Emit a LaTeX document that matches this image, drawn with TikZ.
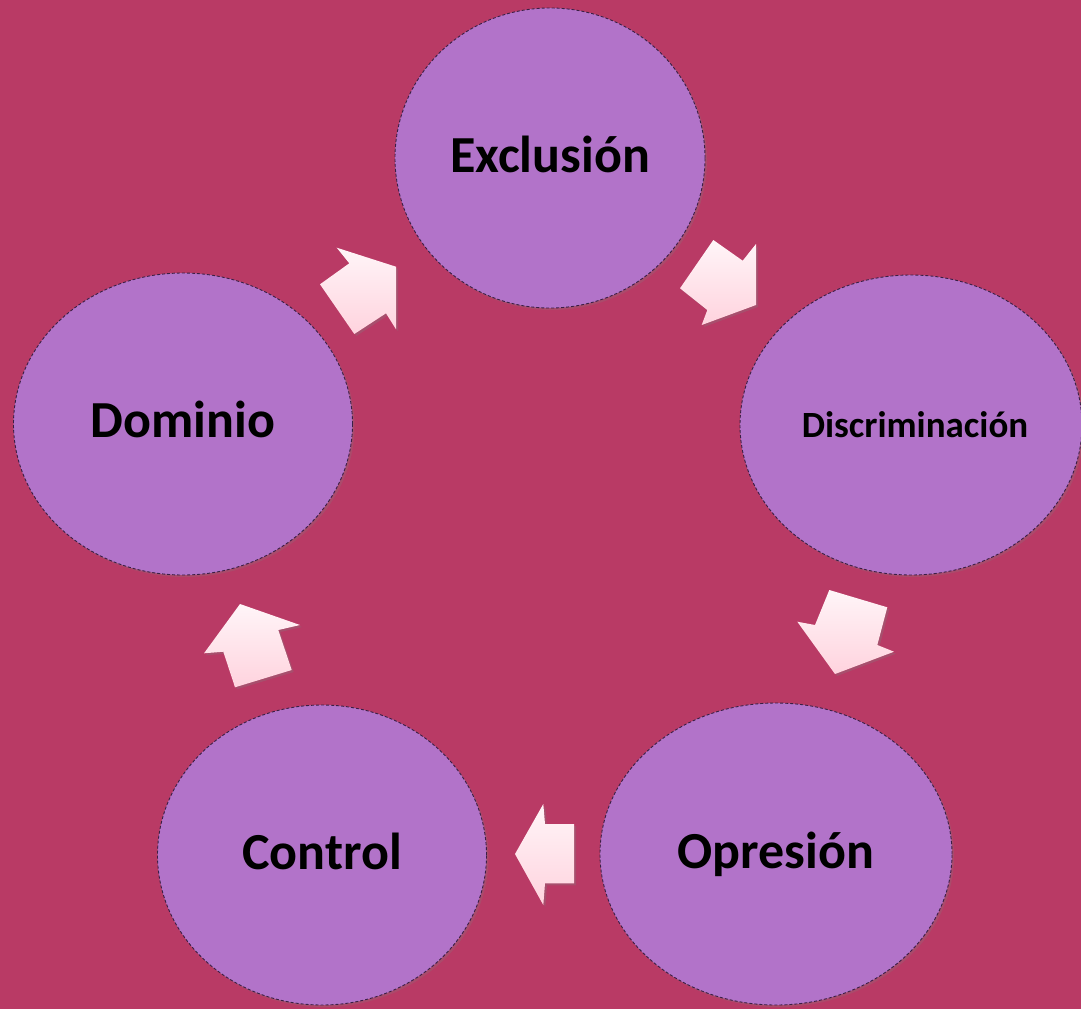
\documentclass[tikz,border=0pt]{standalone}
\usepackage{fontspec}
\setmainfont{Carlito}
\usetikzlibrary{shapes.geometric,shadows}
\definecolor{bgrose}{HTML}{B93A65}
\definecolor{stagefill}{HTML}{B273C9}
\definecolor{stageline}{HTML}{3A1F45}
\definecolor{arrowtop}{HTML}{FFF5F8}
\definecolor{arrowbot}{HTML}{FFD3DE}
\begin{document}
\begin{tikzpicture}[
		x={(1pt,0pt)},
		y={(0pt,-1pt)},
		stage/.style={ellipse,draw=stageline,densely dashed,line width=0.9pt,fill=stagefill,inner sep=0pt,
			drop shadow={shadow xshift=2pt,shadow yshift=-2pt,opacity=0.25},
			font=\bfseries\fontsize{52}{60}\selectfont},
		cyclearrow/.style={top color=arrowtop,bottom color=arrowbot,
			drop shadow={shadow xshift=2pt,shadow yshift=-2pt,opacity=0.3}},
	]
		\fill[bgrose] (0,0) rectangle (1081,1009);
		\useasboundingbox (0,0) rectangle (1081,1009);
		
		\node[stage,minimum width=310pt,minimum height=300pt] (exclusion) at (550,158) {\raisebox{8pt}{Exclusión}};
		\node[stage,minimum width=342pt,minimum height=300pt,font=\bfseries\fontsize{37}{44}\selectfont] (discriminacion) at (911,425) {\hspace*{8pt}Discriminación};
		\node[stage,minimum width=352pt,minimum height=302pt] (opresion) at (776,854) {Opresión};
		\node[stage,minimum width=329pt,minimum height=300pt] (control) at (322,855) {\raisebox{7pt}{Control}};
		\node[stage,minimum width=339pt,minimum height=302pt] (dominio) at (183,424) {\raisebox{9pt}{Dominio}};
		
		% block arrows between the stages
		\path[cyclearrow] (336.7,247.7) -- (396,266.7) -- (396,329.3) -- (386,313.3) -- (354.3,334) -- (320,284.3) -- (349.3,263.3) -- cycle;
		\path[cyclearrow] (713.3,240) -- (742.7,260.7) -- (756,244) -- (756,305) -- (701.7,325) -- (707.3,310) -- (680,288.3) -- cycle;
		\path[cyclearrow] (829.3,590) -- (887.3,607.3) -- (877.3,645) -- (894,651.7) -- (835,674) -- (797.3,621.7) -- (815,625) -- cycle;
		\path[cyclearrow] (543.3,804) -- (545,824) -- (574,824) -- (574,883.3) -- (545,883.3) -- (543.3,905) -- (515,854) -- cycle;
		\path[cyclearrow] (240,604) -- (300,625) -- (278.3,630) -- (291.7,670) -- (235,687.3) -- (223.3,651.7) -- (204,653.3) -- cycle;
	\end{tikzpicture}
\end{document}
